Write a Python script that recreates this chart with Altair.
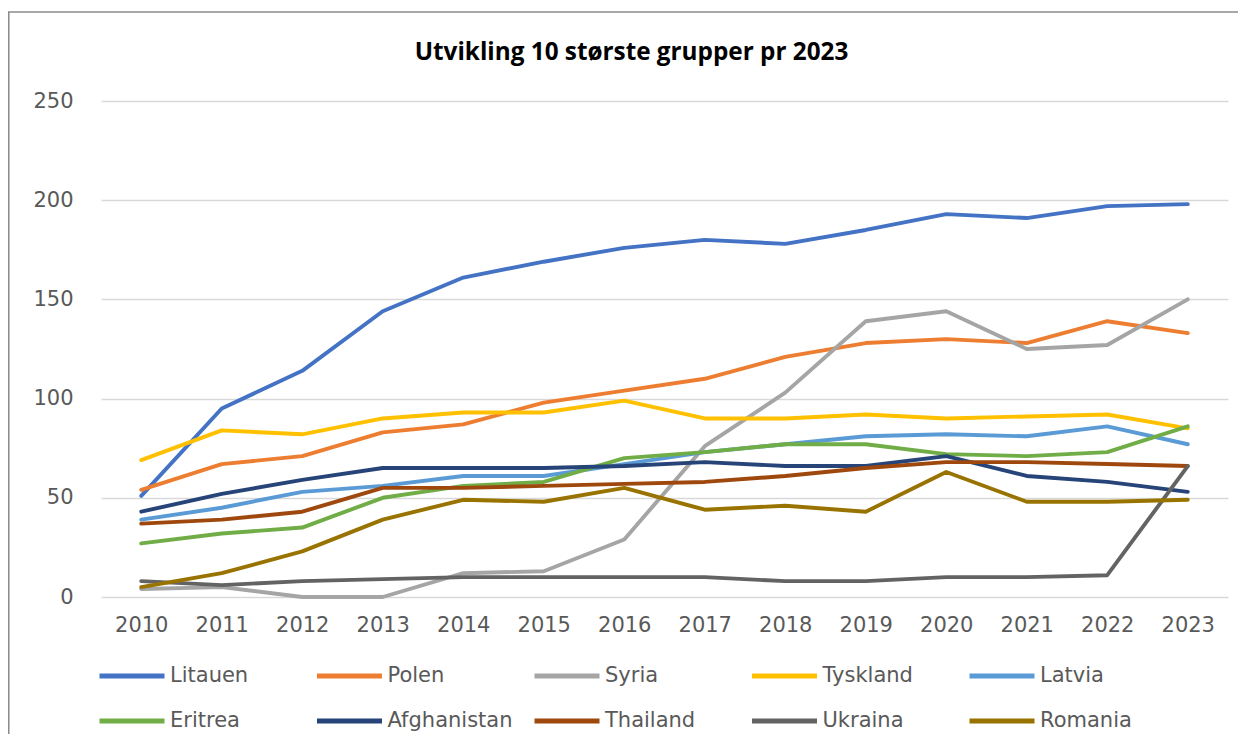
import altair as alt
import pandas as pd

years = [2010, 2011, 2012, 2013, 2014, 2015, 2016, 2017, 2018, 2019, 2020, 2021, 2022, 2023]

litauen = [51, 95, 114, 144, 161, 169, 176, 180, 178, 185, 193, 191, 197, 198]
polen = [54, 67, 71, 83, 87, 98, 104, 110, 121, 128, 130, 128, 139, 133]
syria = [4, 5, 0, 0, 12, 13, 29, 76, 103, 139, 144, 125, 127, 150]
tyskland = [69, 84, 82, 90, 93, 93, 99, 90, 90, 92, 90, 91, 92, 85]
latvia = [39, 45, 53, 56, 61, 61, 67, 73, 77, 81, 82, 81, 86, 77]
eritrea = [27, 32, 35, 50, 56, 58, 70, 73, 77, 77, 72, 71, 73, 86]
afghanistan = [43, 52, 59, 65, 65, 65, 66, 68, 66, 66, 71, 61, 58, 53]
thailand = [37, 39, 43, 55, 55, 56, 57, 58, 61, 65, 68, 68, 67, 66]
ukraina = [8, 6, 8, 9, 10, 10, 10, 10, 8, 8, 10, 10, 11, 66]
romania = [5, 12, 23, 39, 49, 48, 55, 44, 46, 43, 63, 48, 48, 49]

countries = ["Litauen", "Polen", "Syria", "Tyskland", "Latvia",
             "Eritrea", "Afghanistan", "Thailand", "Ukraina", "Romania"]
series = [litauen, polen, syria, tyskland, latvia,
          eritrea, afghanistan, thailand, ukraina, romania]
colors = ["#4472C4", "#ED7D31", "#A5A5A5", "#FFC000", "#5B9BD5",
          "#70AD47", "#264478", "#9E480E", "#636363", "#997300"]

title_text = "Utvikling 10 største grupper pr 2023"

rows = []
for i, (c, vals) in enumerate(zip(countries, series)):
    for y, v in zip(years, vals):
        rows.append({"land": c, "order": i, "year": str(y), "value": v})
df = pd.DataFrame(rows)

FONT = "DejaVu Sans"
GREY = "#595959"

lines = alt.Chart(df).mark_line(strokeWidth=3.9, strokeCap="round", strokeJoin="round").encode(
    x=alt.X("year:O", title=None,
            scale=alt.Scale(type="point", padding=0.5),
            axis=alt.Axis(labelAngle=0, domain=False, ticks=False, grid=False,
                          labelPadding=17, labelFont=FONT, labelFontSize=21,
                          labelColor=GREY)),
    y=alt.Y("value:Q", title=None,
            scale=alt.Scale(domain=[0, 250], nice=False),
            axis=alt.Axis(values=[0, 50, 100, 150, 200, 250], domain=False, ticks=False,
                          grid=True, gridColor="#d9d9d9", gridWidth=1.3,
                          labelPadding=28, labelFont=FONT, labelFontSize=21,
                          labelColor=GREY)),
    color=alt.Color("land:N", title=None,
                    scale=alt.Scale(domain=countries, range=colors),
                    legend=alt.Legend(orient="none", legendX=-4, legendY=540,
                                      direction="horizontal",
                                      columns=5, gridAlign="all",
                                      symbolType="stroke", symbolSize=4225,
                                      symbolStrokeWidth=5, labelOffset=3,
                                      columnPadding=10.5, rowPadding=-34,
                                      labelFont=FONT, labelFontSize=21,
                                      labelColor=GREY, padding=0)),
    order=alt.Order("order:Q"),
    detail="land:N",
)

frame = alt.Chart(alt.Data(values=[{}])).mark_rect(
    fillOpacity=0, stroke="#8c8c8c", strokeWidth=1.6
).encode(
    x=alt.value(-92.25), x2=alt.value(1160),
    y=alt.value(-89), y2=alt.value(700),
)

title = alt.Chart(alt.Data(values=[{"t": title_text}])).mark_text(
    font="Open Sans", fontSize=24.3, fontWeight="bold", color="#000000",
    align="center", baseline="alphabetic"
).encode(
    text="t:N", x=alt.value(530.5), y=alt.value(-41),
)

chart = alt.layer(frame, lines, title).properties(
    width=1127, height=496,
    autosize=alt.AutoSizeParams(type="none"),
    padding={"left": 93, "top": 93, "right": 10, "bottom": 137},
).configure_view(strokeWidth=0)

chart.save("out.html", embed_options={"renderer": "svg", "actions": False})
